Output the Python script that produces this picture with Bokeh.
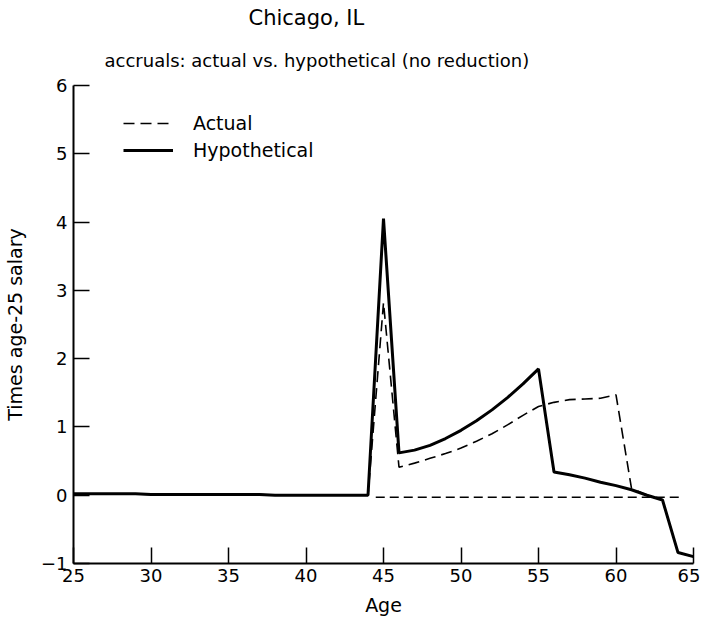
from bokeh.plotting import figure
from bokeh.models import ColumnDataSource, Range1d, Title, Legend, LegendItem, FixedTicker
from bokeh.embed import file_html
from bokeh.resources import INLINE

# ---- data ----
age = list(range(25, 66))
actual = [0.02, 0.02, 0.02, 0.02, 0.02, 0.01, 0.01, 0.01, 0.01, 0.01,
          0.01, 0.01, 0.01, 0.0, 0.0, 0.0, 0.0, 0.0, 0.0, 0.0,
          2.82, 0.41, 0.47, 0.54, 0.61, 0.69, 0.79, 0.90, 1.03, 1.17,
          1.30, 1.36, 1.40, 1.41, 1.42, 1.47, 0.10, 0.0, -0.07, -0.84, -0.90]
hypothetical = [0.02, 0.02, 0.02, 0.02, 0.02, 0.01, 0.01, 0.01, 0.01, 0.01,
                0.01, 0.01, 0.01, 0.0, 0.0, 0.0, 0.0, 0.0, 0.0, 0.0,
                4.05, 0.62, 0.66, 0.73, 0.83, 0.95, 1.09, 1.25, 1.43, 1.63,
                1.85, 0.34, 0.30, 0.25, 0.19, 0.14, 0.08, 0.0, -0.07, -0.84, -0.90]
baseline_age = [44.5, 64.2]
baseline_value = [-0.03, -0.03]
x_ticks = [25, 30, 35, 40, 45, 50, 55, 60, 65]
y_ticks = [-1, 0, 1, 2, 3, 4, 5, 6]

FONT = "DejaVu Sans"

src = ColumnDataSource(dict(age=age, actual=actual, hyp=hypothetical))
base = ColumnDataSource(dict(x=baseline_age, y=baseline_value))

p = figure(width=700, height=620, output_backend="svg", toolbar_location=None,
           x_range=Range1d(25, 65), y_range=Range1d(-1, 6),
           min_border_left=64, min_border_right=7, min_border_bottom=57,
           min_border_top=0)
p.outline_line_color = None
p.grid.grid_line_color = None
p.background_fill_color = "white"
p.border_fill_color = "white"

r_base = p.line("x", "y", source=base, line_color="black", line_width=1.3, line_dash="9 5")
r_act = p.line("age", "actual", source=src, line_color="black", line_width=1.6, line_dash="11 6")
r_hyp = p.line("age", "hyp", source=src, line_color="black", line_width=3)

for ax in (p.xaxis[0], p.yaxis[0]):
    ax.axis_line_width = 2
    ax.axis_line_color = "black"
    ax.major_tick_in = 16
    ax.major_tick_out = 0
    ax.major_tick_line_width = 1.5
    ax.minor_tick_line_color = None
    ax.major_label_text_font = FONT
    ax.major_label_text_font_size = "18px"
    ax.major_label_text_color = "black"
    ax.axis_label_text_font = FONT
    ax.axis_label_text_font_size = "19px"
    ax.axis_label_text_font_style = "normal"
    ax.axis_label_text_color = "black"

p.xaxis.ticker = FixedTicker(ticks=x_ticks)
p.yaxis.ticker = FixedTicker(ticks=y_ticks)
p.xaxis.axis_label = "Age"
p.yaxis.axis_label = "Times age-25 salary"
p.xaxis.major_label_standoff = 5
p.yaxis.major_label_standoff = 6
p.xaxis.axis_label_standoff = 9
p.yaxis.axis_label_standoff = 12

legend = Legend(items=[LegendItem(label="Actual", renderers=[r_act]),
                       LegendItem(label="Hypothetical", renderers=[r_hyp])],
                location=(50, 402), padding=0, margin=0, spacing=5,
                glyph_width=50, glyph_height=20, label_standoff=20,
                label_text_font=FONT, label_text_font_size="19px",
                label_text_color="black",
                border_line_color=None, background_fill_alpha=0)
p.add_layout(legend, "center")

sub = Title(text="accruals: actual vs. hypothetical (no reduction)", align="left",
            offset=31, text_font=FONT, text_font_size="18px", text_color="black",
            text_font_style="normal", standoff=30)
main = Title(text="Chicago, IL", align="left", offset=175, text_font=FONT,
             text_font_size="21px", text_color="black",
             text_font_style="normal", standoff=6)
p.add_layout(sub, "above")
p.add_layout(main, "above")

open("out.html", "w").write(file_html(p, INLINE))
